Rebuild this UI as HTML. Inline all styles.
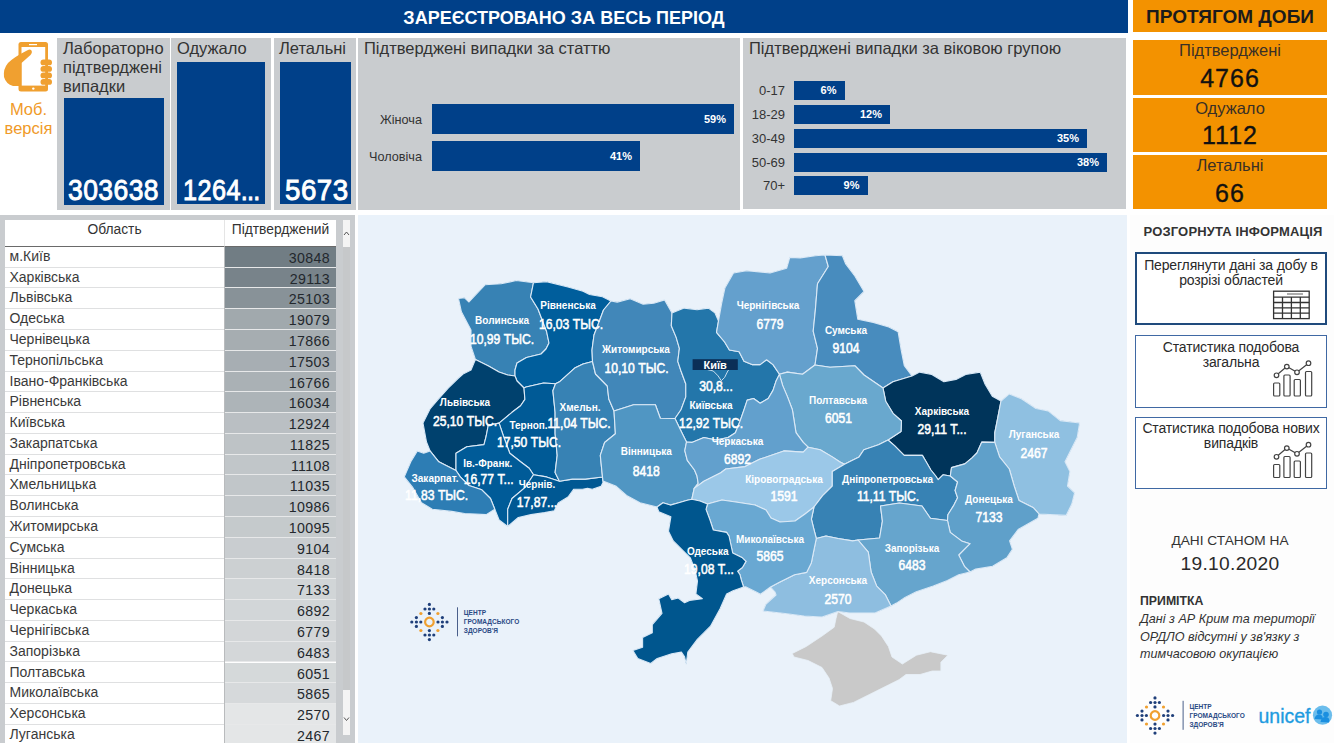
<!DOCTYPE html>
<html><head><meta charset="utf-8">
<style>
*{margin:0;padding:0;box-sizing:border-box}
html,body{width:1334px;height:743px;overflow:hidden;background:#fff;font-family:"Liberation Sans",sans-serif}
.a{position:absolute}
.hdr{left:0;top:0;width:1128px;height:33px;background:#004089;color:#fff;font-weight:bold;font-size:18px;line-height:36px;text-align:center;padding-left:0}
.ohdr{left:1133px;top:0;width:194px;height:32px;background:#f39200;color:#1b1b1b;font-weight:bold;font-size:19px;line-height:33px;text-align:center}
.gp{background:#c9cccf}
.lbl{color:#333;font-size:16.5px;line-height:19px}
.bx{background:#004089}
.big{color:#fff;font-weight:normal;-webkit-text-stroke:0.9px #fff;font-size:29px;letter-spacing:0.5px;transform:scaleX(0.95);transform-origin:left top}
.bar{background:#004089;color:#fff;font-weight:bold;font-size:11px;text-align:right;padding-right:8px}
.blab{color:#333;font-size:12px;text-align:right}
.ob{left:1133px;width:194px;background:#f39200;text-align:center}
.ob .t{font-size:16.5px;color:#3a3026;line-height:19px;padding-top:1px}
.ob .n{font-size:25px;color:#111;letter-spacing:1px;line-height:28px;padding-top:3.5px;-webkit-text-stroke:0.35px #111}
table{border-collapse:collapse}
.tr{left:5px;width:331px;height:20.78px;font-size:13.6px;color:#3a3a3a}
.tr .c1{position:absolute;left:0;top:0;width:219px;height:100%;background:#fff;border-bottom:1px solid #dfe0e1;padding-left:4.5px;line-height:18px;font-size:14px}
.tr .c2{position:absolute;left:219px;top:0;width:112px;height:100%;border-bottom:1px solid #e7e8e9;text-align:right;padding-right:6px;font-size:14.2px;line-height:23.5px;letter-spacing:0.35px;color:#23282d}
.rbox{left:1135px;width:192px;border:2px solid #1f4a7c;background:#fff;text-align:center;font-size:14px;letter-spacing:-0.15px;color:#2a2a2a;line-height:15px;padding-top:3.5px}
</style></head><body>
<!-- header -->
<div class="a hdr">ЗАРЕЄСТРОВАНО ЗА ВЕСЬ ПЕРІОД</div>
<div class="a ohdr">ПРОТЯГОМ ДОБИ</div>

<!-- mob icon -->
<svg class="a" style="left:0;top:36px" width="57" height="110" viewBox="0 36 57 110">
 <rect x="18.5" y="42" width="29.5" height="49.5" rx="2.5" fill="#f0a030"/>
 <rect x="21.5" y="47" width="23.7" height="38.6" fill="#fff"/>
 <rect x="29" y="44" width="8" height="1.2" fill="#fff"/>
 <circle cx="33.3" cy="88.6" r="1.2" fill="#fff"/>
 <path d="M31,50 Q33,52 30.5,55 L21.5,63 L21.5,86 L13,86 Q6,84 4,77 Q3,69 8,63 Q14,57 27,50.5 Q30,49 31,50 Z" fill="#f0a030"/>
 <rect x="40.5" y="59.5" width="11.5" height="5.8" rx="2.9" fill="#f0a030"/>
 <rect x="40.5" y="66" width="11.5" height="5.8" rx="2.9" fill="#f0a030"/>
 <rect x="40.5" y="72.5" width="11.5" height="5.8" rx="2.9" fill="#f0a030"/>
 <rect x="40.5" y="79" width="11.5" height="5.8" rx="2.9" fill="#f0a030"/>
</svg>
<div class="a" style="left:0;top:100px;width:57px;text-align:center;color:#f09a28;font-size:16.5px;line-height:18.5px">Моб.<br>версія</div>

<!-- KPI panels -->
<div class="a gp" style="left:57px;top:38px;width:113px;height:172px"></div>
<div class="a lbl" style="left:63px;top:39px">Лабораторно<br>підтверджені<br>випадки</div>
<div class="a bx" style="left:64px;top:98px;width:99.5px;height:106.5px"></div>
<div class="a big" style="left:68px;top:174px;transform:scaleX(0.912)">303638</div>

<div class="a gp" style="left:171px;top:38px;width:100px;height:172px"></div>
<div class="a lbl" style="left:177px;top:39px">Одужало</div>
<div class="a bx" style="left:176.5px;top:62px;width:88.5px;height:142px"></div>
<div class="a big" style="left:183px;top:174px;transform:scaleX(0.87)">1264<span style="letter-spacing:-1px">...</span></div>

<div class="a gp" style="left:274px;top:38px;width:82px;height:172px"></div>
<div class="a lbl" style="left:279px;top:39px">Летальні</div>
<div class="a bx" style="left:279.5px;top:62px;width:71px;height:142px"></div>
<div class="a big" style="left:285px;top:174px;transform:scaleX(0.955)">5673</div>

<!-- gender chart -->
<div class="a gp" style="left:358px;top:38px;width:382px;height:172px"></div>
<div class="a lbl" style="left:364px;top:39px">Підтверджені випадки за статтю</div>

<!-- age chart -->
<div class="a gp" style="left:743px;top:38px;width:383px;height:171px"></div>
<div class="a lbl" style="left:749px;top:39px">Підтверджені випадки за віковою групою</div>

<!-- orange daily -->
<div class="a ob" style="top:40px;height:54.5px"><div class="t">Підтверджені</div><div class="n">4766</div></div>
<div class="a ob" style="top:97.5px;height:54.5px"><div class="t">Одужало</div><div class="n">1112</div></div>
<div class="a ob" style="top:155px;height:54px"><div class="t">Летальні</div><div class="n">66</div></div>

<!-- table -->
<div class="a gp" style="left:0;top:215px;width:355px;height:528px"></div>
<div class="a" style="left:5px;top:220px;width:331px;height:523px;background:#fff"></div>
<div class="a" style="left:5px;top:220px;width:219px;height:27px;border-bottom:1.2px solid #6a6a6a;text-align:center;font-size:13.8px;color:#333;line-height:20px">Область</div>
<div class="a" style="left:224px;top:220px;width:112px;height:27px;border-bottom:1.2px solid #6a6a6a;border-left:1px solid #e5e5e5;text-align:center;font-size:13.8px;color:#333;line-height:20px">Підтверджений</div>
<div class="a tr" style="top:246.90px"><div class="c1">м.Київ</div><div class="c2" style="background:#717d84">30848</div></div>
<div class="a tr" style="top:267.68px"><div class="c1">Харківська</div><div class="c2" style="background:#78838a">29113</div></div>
<div class="a tr" style="top:288.46px"><div class="c1">Львівська</div><div class="c2" style="background:#889298">25103</div></div>
<div class="a tr" style="top:309.24px"><div class="c1">Одеська</div><div class="c2" style="background:#a1a9ad">19079</div></div>
<div class="a tr" style="top:330.02px"><div class="c1">Чернівецька</div><div class="c2" style="background:#a6adb1">17866</div></div>
<div class="a tr" style="top:350.80px"><div class="c1">Тернопільська</div><div class="c2" style="background:#a7aeb3">17503</div></div>
<div class="a tr" style="top:371.58px"><div class="c1">Івано-Франківська</div><div class="c2" style="background:#aab1b5">16766</div></div>
<div class="a tr" style="top:392.36px"><div class="c1">Рівненська</div><div class="c2" style="background:#adb4b8">16034</div></div>
<div class="a tr" style="top:413.14px"><div class="c1">Київська</div><div class="c2" style="background:#babfc3">12924</div></div>
<div class="a tr" style="top:433.92px"><div class="c1">Закарпатська</div><div class="c2" style="background:#bec3c6">11825</div></div>
<div class="a tr" style="top:454.70px"><div class="c1">Дніпропетровська</div><div class="c2" style="background:#c1c6c9">11108</div></div>
<div class="a tr" style="top:475.48px"><div class="c1">Хмельницька</div><div class="c2" style="background:#c1c6c9">11035</div></div>
<div class="a tr" style="top:496.26px"><div class="c1">Волинська</div><div class="c2" style="background:#c1c6c9">10986</div></div>
<div class="a tr" style="top:517.04px"><div class="c1">Житомирська</div><div class="c2" style="background:#c5cacc">10095</div></div>
<div class="a tr" style="top:537.82px"><div class="c1">Сумська</div><div class="c2" style="background:#c9cdd0">9104</div></div>
<div class="a tr" style="top:558.60px"><div class="c1">Вінницька</div><div class="c2" style="background:#ccd0d2">8418</div></div>
<div class="a tr" style="top:579.38px"><div class="c1">Донецька</div><div class="c2" style="background:#d1d5d7">7133</div></div>
<div class="a tr" style="top:600.16px"><div class="c1">Черкаська</div><div class="c2" style="background:#d2d6d8">6892</div></div>
<div class="a tr" style="top:620.94px"><div class="c1">Чернігівська</div><div class="c2" style="background:#d3d6d8">6779</div></div>
<div class="a tr" style="top:641.72px"><div class="c1">Запорізька</div><div class="c2" style="background:#d4d7d9">6483</div></div>
<div class="a tr" style="top:662.50px"><div class="c1">Полтавська</div><div class="c2" style="background:#d5d9da">6051</div></div>
<div class="a tr" style="top:683.28px"><div class="c1">Миколаївська</div><div class="c2" style="background:#d6d9db">5865</div></div>
<div class="a tr" style="top:704.06px"><div class="c1">Херсонська</div><div class="c2" style="background:#e4e6e7">2570</div></div>
<div class="a tr" style="top:724.84px"><div class="c1">Луганська</div><div class="c2" style="background:#e4e6e7">2467</div></div>
<div class="a" style="left:223.5px;top:247px;width:1px;height:496px;background:#b9bbbd"></div>
<div class="a" style="left:343px;top:220px;width:7px;height:27px;background:#f4f4f4"></div>
<div class="a" style="left:343px;top:247px;width:7px;height:443px;background:#c6c8ca"></div>
<div class="a" style="left:343px;top:690px;width:7px;height:45px;background:#f4f4f4"></div>
<svg class="a" style="left:343px;top:230px" width="7" height="6"><path d="M1,5 L3.5,2 L6,5" fill="none" stroke="#555" stroke-width="1"/></svg>
<svg class="a" style="left:343px;top:716px" width="7" height="6"><path d="M1,1.5 L3.5,4.5 L6,1.5" fill="none" stroke="#555" stroke-width="1"/></svg>

<!-- map panel -->
<div class="a" style="left:358px;top:215px;width:768.5px;height:528px;background:#eaf2fa"></div>
<div class="a blab" style="left:355px;top:113px;width:67px;font-size:12.7px">Жіноча</div>
<div class="a bar" style="left:432px;top:104px;width:302px;height:30px;line-height:30px">59%</div>
<div class="a blab" style="left:355px;top:150px;width:67px;font-size:12.7px">Чоловіча</div>
<div class="a bar" style="left:432px;top:141px;width:208px;height:30px;line-height:30px">41%</div>
<div class="a blab" style="left:740px;top:82.5px;width:45px;font-size:13px">0-17</div>
<div class="a bar" style="left:794px;top:80.5px;width:50.5px;height:19px;line-height:19px">6%</div>
<div class="a blab" style="left:740px;top:106.5px;width:45px;font-size:13px">18-29</div>
<div class="a bar" style="left:794px;top:104.5px;width:96px;height:19px;line-height:19px">12%</div>
<div class="a blab" style="left:740px;top:130.7px;width:45px;font-size:13px">30-49</div>
<div class="a bar" style="left:794px;top:128.7px;width:293px;height:19px;line-height:19px">35%</div>
<div class="a blab" style="left:740px;top:154.6px;width:45px;font-size:13px">50-69</div>
<div class="a bar" style="left:794px;top:152.6px;width:313px;height:19px;line-height:19px">38%</div>
<div class="a blab" style="left:740px;top:178.3px;width:45px;font-size:13px">70+</div>
<div class="a bar" style="left:794px;top:176.3px;width:73.5px;height:19px;line-height:19px">9%</div>
<svg class="a" style="left:0;top:0" width="1334" height="743" viewBox="0 0 1334 743">
<clipPath id="mc"><rect x="358" y="215" width="769" height="528"/></clipPath><g clip-path="url(#mc)">
<path d="M837.7,611.5 L850.0,618.5 L864.0,622.0 L874.5,629.0 L881.5,636.0 L888.4,646.5 L892.0,657.0 L902.4,664.0 L916.4,655.2 L930.4,651.7 L947.9,655.2 L940.9,662.2 L940.9,671.0 L932.2,671.0 L920.0,674.5 L906.0,674.5 L899.0,679.7 L888.4,685.0 L871.0,693.7 L853.5,702.4 L839.5,706.0 L830.7,700.7 L832.5,688.4 L829.0,678.0 L822.0,667.5 L808.0,660.5 L794.0,657.0 L792.2,653.5 L806.2,646.5 L822.0,636.0 L834.2,627.2 L836.0,618.5Z" fill="#c9c9c9" stroke="#e9f1f9" stroke-width="0.8"/>
<path d="M458.5,298.5 L464.6,297.8 L469.0,302.0 L485.0,284.8 L501.2,283.8 L516.3,280.5 L533.5,282.7 L546.5,281.6 L568.0,287.0 L583.0,291.3 L589.5,294.5 L602.5,296.7 L611.0,301.0 L617.2,302.1 L630.2,298.8 L643.1,304.2 L653.8,303.2 L664.6,299.9 L672.0,313.0 L676.1,311.3 L684.2,308.1 L697.1,309.7 L708.4,308.1 L714.9,312.9 L718.5,321.0 L721.7,303.2 L724.9,288.1 L733.5,273.0 L746.5,270.8 L759.4,271.9 L770.1,273.0 L786.7,268.2 L789.8,257.4 L800.3,257.9 L815.4,255.8 L825.0,255.0 L842.4,255.8 L845.5,263.6 L854.8,276.0 L864.0,291.4 L854.8,300.7 L857.8,319.3 L873.3,322.4 L888.8,327.0 L898.1,331.7 L901.2,350.2 L904.3,365.7 L912.0,376.0 L919.7,372.1 L931.8,374.5 L943.9,381.8 L956.0,379.4 L965.7,374.5 L980.2,372.1 L985.1,384.2 L992.3,396.3 L1001.0,401.0 L1009.3,393.9 L1021.4,398.8 L1036.0,408.5 L1048.1,410.9 L1060.2,420.6 L1079.6,423.0 L1077.2,437.5 L1069.9,452.1 L1065.0,461.8 L1069.9,471.5 L1067.5,486.0 L1074.6,492.8 L1071.8,504.1 L1066.1,515.4 L1039.0,514.0 L1037.9,518.3 L1018.1,529.6 L1009.6,540.9 L1012.4,549.4 L1006.8,557.8 L992.6,566.3 L975.7,569.1 L970.0,572.0 L958.7,574.8 L947.4,580.4 L933.3,586.1 L916.3,591.8 L905.0,597.4 L896.5,603.1 L891.0,606.0 L875.0,613.0 L850.0,613.0 L838.0,611.5 L822.0,617.0 L804.0,616.0 L785.0,613.5 L763.0,611.0 L766.0,604.0 L776.0,595.0 L775.0,592.0 L770.5,587.0 L760.5,594.2 L755.7,591.8 L746.0,586.9 L743.6,587.0 L733.1,590.7 L726.6,593.9 L720.2,608.5 L710.5,626.2 L697.5,639.2 L687.8,652.1 L686.2,664.2 L684.6,656.9 L681.4,652.1 L671.7,653.7 L657.2,658.5 L650.7,663.4 L637.8,658.5 L632.9,650.5 L642.6,647.2 L642.6,637.5 L652.3,632.7 L652.3,624.6 L662.0,613.3 L658.8,598.8 L668.5,593.9 L671.7,599.6 L678.2,598.0 L684.6,602.8 L689.5,600.4 L702.4,598.8 L695.9,593.9 L697.5,581.0 L695.1,570.0 L690.3,557.8 L683.0,550.6 L673.3,540.9 L668.5,531.2 L670.9,516.7 L658.8,511.8 L657.0,507.0 L640.0,502.7 L626.6,495.4 L615.7,486.0 L603.0,481.0 L602.5,477.0 L603.0,482.4 L601.1,486.3 L592.3,489.2 L587.5,488.3 L582.6,489.2 L573.8,489.2 L568.0,497.0 L558.2,502.9 L554.3,510.7 L544.6,512.6 L531.0,514.6 L518.3,517.5 L507.7,526.5 L499.1,520.0 L494.8,509.2 L486.2,514.6 L464.6,513.5 L451.7,511.4 L432.3,509.2 L421.5,502.8 L412.9,487.7 L404.3,476.9 L410.8,461.8 L417.2,451.1 L423.7,453.2 L430.2,451.1 L426.5,442.0 L423.0,423.0 L430.0,409.0 L437.3,400.3 L448.2,388.2 L458.0,378.5 L463.0,374.0 L471.0,370.0 L475.4,359.5 L471.0,346.2 L471.0,330.0 L461.4,311.8 L458.5,298.5Z" fill="#3782b4"/>
<path d="M458.5,298.5 L464.6,297.8 L469.0,302.0 L485.0,284.8 L501.2,283.8 L516.3,280.5 L533.5,282.7 L530.6,297.0 L538.0,309.0 L546.6,331.5 L549.0,343.0 L546.0,349.0 L541.0,354.0 L526.5,357.5 L517.0,363.0 L515.0,370.0 L515.0,376.0 L507.7,375.0 L499.0,372.0 L488.5,366.0 L475.4,359.5 L471.0,346.2 L471.0,330.0 L461.4,311.8 L458.5,298.5Z" fill="#3782b4" stroke="#dbe9f6" stroke-width="1.1" stroke-linejoin="round"/>
<path d="M533.5,282.7 L546.5,281.6 L568.0,287.0 L583.0,291.3 L589.5,294.5 L602.5,296.7 L611.0,301.0 L603.5,310.0 L599.0,322.0 L594.0,335.0 L592.0,350.0 L592.5,361.5 L583.0,364.0 L574.7,368.1 L560.0,381.4 L555.5,383.7 L543.6,383.0 L526.0,387.0 L524.0,388.0 L517.0,381.0 L515.0,376.0 L515.0,370.0 L517.0,363.0 L526.5,357.5 L541.0,354.0 L546.0,349.0 L549.0,343.0 L546.6,331.5 L538.0,309.0 L530.6,297.0 L533.5,282.7Z" fill="#005e9c" stroke="#dbe9f6" stroke-width="1.1" stroke-linejoin="round"/>
<path d="M475.4,359.5 L488.5,366.0 L499.0,372.0 L507.7,375.0 L515.0,376.0 L517.0,381.0 L524.0,388.0 L524.9,399.4 L520.6,405.8 L512.0,412.3 L499.1,423.1 L488.3,425.2 L486.2,436.0 L484.0,444.6 L466.8,446.8 L456.0,453.2 L456.0,470.5 L438.8,461.8 L430.2,451.1 L426.5,442.0 L423.0,423.0 L430.0,409.0 L437.3,400.3 L448.2,388.2 L458.0,378.5 L463.0,374.0 L471.0,370.0 L475.4,359.5Z" fill="#00416e" stroke="#dbe9f6" stroke-width="1.1" stroke-linejoin="round"/>
<path d="M524.0,388.0 L526.0,387.0 L543.6,383.0 L555.5,383.7 L552.9,390.8 L555.1,412.3 L555.1,433.8 L557.2,455.4 L555.1,472.6 L559.4,481.2 L546.5,476.9 L533.5,474.8 L529.2,468.3 L520.6,461.8 L509.8,453.2 L503.4,436.0 L499.1,423.1 L512.0,412.3 L520.6,405.8 L524.9,399.4 L524.0,388.0Z" fill="#005a96" stroke="#dbe9f6" stroke-width="1.1" stroke-linejoin="round"/>
<path d="M499.1,423.1 L503.4,436.0 L509.8,453.2 L520.6,461.8 L529.2,468.3 L533.5,474.8 L524.9,487.7 L512.0,498.5 L507.7,509.2 L507.7,526.5 L499.1,520.0 L494.8,509.2 L490.5,498.5 L481.8,489.8 L468.9,485.5 L460.3,476.9 L456.0,470.5 L456.0,453.2 L466.8,446.8 L484.0,444.6 L486.2,436.0 L488.3,425.2 L499.1,423.1Z" fill="#005b98" stroke="#dbe9f6" stroke-width="1.1" stroke-linejoin="round"/>
<path d="M456.0,470.5 L460.3,476.9 L468.9,485.5 L481.8,489.8 L490.5,498.5 L494.8,509.2 L486.2,514.6 L464.6,513.5 L451.7,511.4 L432.3,509.2 L421.5,502.8 L412.9,487.7 L404.3,476.9 L410.8,461.8 L417.2,451.1 L423.7,453.2 L430.2,451.1 L438.8,461.8 L456.0,470.5Z" fill="#2d7db4" stroke="#dbe9f6" stroke-width="1.1" stroke-linejoin="round"/>
<path d="M533.5,474.8 L546.5,476.9 L559.4,481.2 L572.3,479.1 L585.2,479.1 L602.5,477.0 L603.0,482.4 L601.1,486.3 L592.3,489.2 L587.5,488.3 L582.6,489.2 L573.8,489.2 L568.0,497.0 L558.2,502.9 L554.3,510.7 L544.6,512.6 L531.0,514.6 L518.3,517.5 L507.7,526.5 L507.7,509.2 L512.0,498.5 L524.9,487.7 L533.5,474.8Z" fill="#005893" stroke="#dbe9f6" stroke-width="1.1" stroke-linejoin="round"/>
<path d="M555.5,383.7 L560.0,381.4 L574.7,368.1 L583.0,364.0 L592.5,361.5 L595.5,374.0 L607.3,386.0 L608.8,399.0 L614.0,411.0 L615.4,433.8 L604.6,442.5 L600.3,455.4 L602.5,477.0 L585.2,479.1 L572.3,479.1 L559.4,481.2 L555.1,472.6 L557.2,455.4 L555.1,433.8 L555.1,412.3 L552.9,390.8 L555.5,383.7Z" fill="#3782b4" stroke="#dbe9f6" stroke-width="1.1" stroke-linejoin="round"/>
<path d="M611.0,301.0 L617.2,302.1 L630.2,298.8 L643.1,304.2 L653.8,303.2 L664.6,299.9 L672.0,313.0 L671.3,325.8 L676.1,337.1 L679.4,348.4 L677.8,361.3 L681.0,371.0 L685.8,384.0 L685.8,396.9 L681.0,409.8 L675.0,418.5 L660.3,418.2 L655.4,404.8 L633.6,404.8 L614.0,411.0 L608.8,399.0 L607.3,386.0 L595.5,374.0 L592.5,361.5 L592.0,350.0 L594.0,335.0 L599.0,322.0 L603.5,310.0 L611.0,301.0Z" fill="#4187b9" stroke="#dbe9f6" stroke-width="1.1" stroke-linejoin="round"/>
<path d="M672.0,313.0 L676.1,311.3 L684.2,308.1 L697.1,309.7 L708.4,308.1 L714.9,312.9 L718.5,321.0 L716.5,332.3 L724.6,342.0 L729.4,350.0 L739.1,351.7 L744.0,361.3 L752.0,364.6 L760.1,364.6 L766.6,359.7 L773.0,364.6 L779.5,374.3 L776.2,380.7 L773.0,390.4 L768.2,398.5 L760.1,403.3 L753.6,398.5 L747.2,400.1 L744.0,409.8 L740.2,420.6 L735.4,432.7 L728.1,437.5 L716.0,440.0 L703.9,437.5 L691.8,442.4 L686.5,442.0 L682.0,433.0 L675.0,418.5 L681.0,409.8 L685.8,396.9 L685.8,384.0 L681.0,371.0 L677.8,361.3 L679.4,348.4 L676.1,337.1 L671.3,325.8 L672.0,313.0Z" fill="#2376aa" stroke="#dbe9f6" stroke-width="1.1" stroke-linejoin="round"/>
<path d="M718.5,321.0 L721.7,303.2 L724.9,288.1 L733.5,273.0 L746.5,270.8 L759.4,271.9 L770.1,273.0 L786.7,268.2 L789.8,257.4 L800.3,257.9 L815.4,255.8 L825.0,255.0 L828.3,266.5 L817.5,283.8 L815.4,309.6 L813.2,331.2 L817.5,348.4 L815.0,365.0 L802.5,374.2 L787.4,372.1 L779.5,374.3 L773.0,364.6 L766.6,359.7 L760.1,364.6 L752.0,364.6 L744.0,361.3 L739.1,351.7 L729.4,350.0 L724.6,342.0 L716.5,332.3 L718.5,321.0Z" fill="#64a0cd" stroke="#dbe9f6" stroke-width="1.1" stroke-linejoin="round"/>
<path d="M825.0,255.0 L842.4,255.8 L845.5,263.6 L854.8,276.0 L864.0,291.4 L854.8,300.7 L857.8,319.3 L873.3,322.4 L888.8,327.0 L898.1,331.7 L901.2,350.2 L904.3,365.7 L912.0,376.0 L893.0,381.8 L883.0,388.0 L864.0,375.0 L854.8,365.7 L830.0,367.3 L815.0,365.0 L817.5,348.4 L813.2,331.2 L815.4,309.6 L817.5,283.8 L828.3,266.5 L825.0,255.0Z" fill="#488cbe" stroke="#dbe9f6" stroke-width="1.1" stroke-linejoin="round"/>
<path d="M912.0,376.0 L919.7,372.1 L931.8,374.5 L943.9,381.8 L956.0,379.4 L965.7,374.5 L980.2,372.1 L985.1,384.2 L992.3,396.3 L1001.0,401.0 L997.2,420.6 L994.8,432.7 L994.8,442.4 L981.8,442.1 L976.9,453.0 L972.0,457.9 L964.8,463.9 L951.5,467.6 L950.3,476.0 L943.0,474.8 L938.2,479.7 L935.7,476.0 L930.9,470.0 L926.0,461.5 L922.4,455.4 L904.2,455.4 L894.5,445.7 L888.0,440.0 L901.0,431.5 L901.5,421.0 L893.0,413.3 L885.7,401.2 L883.0,388.0 L893.0,381.8 L912.0,376.0Z" fill="#00345a" stroke="#dbe9f6" stroke-width="1.1" stroke-linejoin="round"/>
<path d="M1001.0,401.0 L1009.3,393.9 L1021.4,398.8 L1036.0,408.5 L1048.1,410.9 L1060.2,420.6 L1079.6,423.0 L1077.2,437.5 L1069.9,452.1 L1065.0,461.8 L1069.9,471.5 L1067.5,486.0 L1074.6,492.8 L1071.8,504.1 L1066.1,515.4 L1039.0,514.0 L1033.5,507.8 L1019.0,500.5 L1014.2,486.0 L1009.3,469.0 L999.6,456.9 L994.8,442.4 L994.8,432.7 L997.2,420.6 L1001.0,401.0Z" fill="#8fc0e1" stroke="#dbe9f6" stroke-width="1.1" stroke-linejoin="round"/>
<path d="M779.5,374.3 L787.4,372.1 L802.5,374.2 L815.0,365.0 L830.0,367.3 L854.8,365.7 L864.0,375.0 L883.0,388.0 L885.7,401.2 L893.0,413.3 L901.5,421.0 L901.0,431.5 L888.0,440.0 L878.5,444.8 L863.9,449.7 L859.1,456.9 L849.4,461.8 L844.5,464.2 L839.6,461.8 L832.3,456.9 L820.2,449.7 L808.1,447.2 L803.2,442.4 L796.0,432.7 L792.4,409.8 L787.5,396.9 L782.7,385.6 L779.5,374.3Z" fill="#69a8ce" stroke="#dbe9f6" stroke-width="1.1" stroke-linejoin="round"/>
<path d="M614.0,411.0 L633.6,404.8 L655.4,404.8 L660.3,418.2 L675.0,418.5 L682.0,433.0 L686.5,442.0 L684.8,450.6 L687.3,460.3 L694.5,470.0 L697.0,476.0 L698.2,483.3 L694.2,488.4 L691.8,499.3 L687.3,500.3 L678.8,502.7 L670.3,505.1 L663.0,502.7 L657.0,507.0 L640.0,502.7 L626.6,495.4 L615.7,486.0 L603.0,481.0 L602.5,477.0 L600.3,455.4 L604.6,442.5 L615.4,433.8 L614.0,411.0Z" fill="#5096c3" stroke="#dbe9f6" stroke-width="1.1" stroke-linejoin="round"/>
<path d="M686.5,442.0 L691.8,442.4 L703.9,437.5 L716.0,440.0 L728.1,437.5 L735.4,432.7 L740.2,420.6 L744.0,409.8 L747.2,400.1 L753.6,398.5 L760.1,403.3 L768.2,398.5 L773.0,390.4 L776.2,380.7 L779.5,374.3 L782.7,385.6 L787.5,396.9 L792.4,409.8 L796.0,432.7 L803.2,442.4 L808.1,447.2 L803.2,452.1 L783.8,450.9 L759.6,459.3 L745.1,466.6 L725.7,469.0 L720.8,472.7 L703.9,481.2 L694.2,488.4 L698.2,483.3 L697.0,476.0 L694.5,470.0 L687.3,460.3 L684.8,450.6 L686.5,442.0Z" fill="#62a0cd" stroke="#dbe9f6" stroke-width="1.1" stroke-linejoin="round"/>
<path d="M808.1,447.2 L820.2,449.7 L832.3,456.9 L839.6,461.8 L844.5,464.2 L832.3,471.5 L832.3,486.0 L822.6,495.7 L814.0,507.0 L805.0,514.0 L795.0,521.0 L780.0,522.0 L771.0,518.0 L766.0,510.0 L755.0,505.0 L739.0,502.5 L722.0,500.0 L707.5,504.0 L700.0,501.0 L691.8,499.3 L694.2,488.4 L703.9,481.2 L720.8,472.7 L725.7,469.0 L745.1,466.6 L759.6,459.3 L783.8,450.9 L803.2,452.1 L808.1,447.2Z" fill="#9bc8e8" stroke="#dbe9f6" stroke-width="1.1" stroke-linejoin="round"/>
<path d="M888.0,440.0 L894.5,445.7 L904.2,455.4 L922.4,455.4 L926.0,461.5 L930.9,470.0 L935.7,476.0 L938.2,479.7 L943.0,474.8 L950.3,476.0 L957.6,482.0 L955.1,490.5 L957.6,497.8 L953.9,505.1 L947.9,514.8 L947.5,520.5 L930.4,518.3 L922.0,506.0 L899.4,503.0 L880.5,506.0 L882.4,521.1 L879.6,538.0 L858.0,540.0 L852.6,540.9 L838.1,538.5 L826.0,536.0 L816.3,538.5 L813.8,528.8 L811.4,519.1 L814.0,507.0 L822.6,495.7 L832.3,486.0 L832.3,471.5 L844.5,464.2 L849.4,461.8 L859.1,456.9 L863.9,449.7 L878.5,444.8 L888.0,440.0Z" fill="#3782b4" stroke="#dbe9f6" stroke-width="1.1" stroke-linejoin="round"/>
<path d="M994.8,442.4 L999.6,456.9 L1009.3,469.0 L1014.2,486.0 L1019.0,500.5 L1033.5,507.8 L1039.0,514.0 L1037.9,518.3 L1018.1,529.6 L1009.6,540.9 L1012.4,549.4 L1006.8,557.8 L992.6,566.3 L975.7,569.1 L970.0,572.0 L964.4,566.3 L958.7,555.0 L970.0,543.7 L961.5,540.9 L950.2,532.4 L947.5,520.5 L947.9,514.8 L953.9,505.1 L957.6,497.8 L955.1,490.5 L957.6,482.0 L950.3,476.0 L951.5,467.6 L964.8,463.9 L972.0,457.9 L976.9,453.0 L981.8,442.1 L994.8,442.4Z" fill="#5fa0ca" stroke="#dbe9f6" stroke-width="1.1" stroke-linejoin="round"/>
<path d="M858.0,540.0 L879.6,538.0 L882.4,521.1 L880.5,506.0 L899.4,503.0 L922.0,506.0 L930.4,518.3 L947.5,520.5 L950.2,532.4 L961.5,540.9 L970.0,543.7 L958.7,555.0 L964.4,566.3 L970.0,572.0 L958.7,574.8 L947.4,580.4 L933.3,586.1 L916.3,591.8 L905.0,597.4 L896.5,603.1 L891.0,606.0 L885.2,594.6 L876.7,586.1 L871.1,572.0 L868.3,552.2 L858.0,540.0Z" fill="#66a5cd" stroke="#dbe9f6" stroke-width="1.1" stroke-linejoin="round"/>
<path d="M816.3,538.5 L826.0,536.0 L838.1,538.5 L852.6,540.9 L858.0,540.0 L868.3,552.2 L871.1,572.0 L876.7,586.1 L885.2,594.6 L891.0,606.0 L875.0,613.0 L850.0,613.0 L838.0,611.5 L822.0,617.0 L804.0,616.0 L785.0,613.5 L763.0,611.0 L766.0,604.0 L776.0,595.0 L775.0,592.0 L770.5,587.0 L779.9,582.1 L794.5,574.8 L806.6,572.4 L811.4,562.7 L813.8,550.6 L816.3,538.5Z" fill="#8ebee0" stroke="#dbe9f6" stroke-width="1.1" stroke-linejoin="round"/>
<path d="M707.5,504.0 L722.0,500.0 L739.0,502.5 L755.0,505.0 L766.0,510.0 L771.0,518.0 L780.0,522.0 L795.0,521.0 L805.0,514.0 L814.0,507.0 L811.4,519.1 L813.8,528.8 L816.3,538.5 L813.8,550.6 L811.4,562.7 L806.6,572.4 L794.5,574.8 L779.9,582.1 L770.5,587.0 L760.5,594.2 L755.7,591.8 L746.0,586.9 L743.6,587.0 L741.2,579.7 L740.0,574.7 L737.6,571.1 L742.4,567.5 L746.0,561.4 L742.4,557.8 L732.7,553.0 L729.0,536.0 L726.6,532.4 L713.3,530.0 L710.0,520.0 L706.0,509.4 L707.5,504.0Z" fill="#69a8d2" stroke="#dbe9f6" stroke-width="1.1" stroke-linejoin="round"/>
<path d="M691.8,499.3 L700.0,501.0 L707.5,504.0 L706.0,509.4 L710.0,520.0 L713.3,530.0 L726.6,532.4 L729.0,536.0 L732.7,553.0 L742.4,557.8 L746.0,561.4 L742.4,567.5 L737.6,571.1 L740.0,574.7 L741.2,579.7 L743.6,587.0 L733.1,590.7 L726.6,593.9 L720.2,608.5 L710.5,626.2 L697.5,639.2 L687.8,652.1 L686.2,664.2 L684.6,656.9 L681.4,652.1 L671.7,653.7 L657.2,658.5 L650.7,663.4 L637.8,658.5 L632.9,650.5 L642.6,647.2 L642.6,637.5 L652.3,632.7 L652.3,624.6 L662.0,613.3 L658.8,598.8 L668.5,593.9 L671.7,599.6 L678.2,598.0 L684.6,602.8 L689.5,600.4 L702.4,598.8 L695.9,593.9 L697.5,581.0 L695.1,570.0 L690.3,557.8 L683.0,550.6 L673.3,540.9 L668.5,531.2 L670.9,516.7 L658.8,511.8 L657.0,507.0 L663.0,502.7 L670.3,505.1 L678.8,502.7 L687.3,500.3 L691.8,499.3Z" fill="#00568e" stroke="#dbe9f6" stroke-width="1.1" stroke-linejoin="round"/>
<path d="M702,365 L733,365 L727.8,371 L724.6,377.5 L721.3,380.7 L718.1,375.9 L713.3,371 L706.8,369.4 Z" fill="#2376aa" stroke="#dbe9f6" stroke-width="0.9"/>
<rect x="692.6" y="359.2" width="45.2" height="10.8" fill="#0b2f57"/>
<text x="715.2" y="368.6" text-anchor="middle" font-size="11" font-weight="bold" fill="#fff">Київ</text>
<text transform="translate(716,391) scale(0.88,1)" text-anchor="middle" font-size="13.8" stroke="#fff" stroke-width="0.55" fill="#fff">30,8...</text>
<text x="502" y="323.6" text-anchor="middle" font-size="10" font-weight="bold" fill="#fff">Волинська</text>
<text transform="translate(502,343.9) scale(0.88,1)" text-anchor="middle" font-size="13.8" stroke="#fff" stroke-width="0.55" fill="#fff">10,99 ТЫС.</text>
<text x="568" y="308.6" text-anchor="middle" font-size="10" font-weight="bold" fill="#fff">Рівненська</text>
<text transform="translate(571,328.9) scale(0.88,1)" text-anchor="middle" font-size="13.8" stroke="#fff" stroke-width="0.55" fill="#fff">16,03 ТЫС.</text>
<text x="636" y="352.6" text-anchor="middle" font-size="10" font-weight="bold" fill="#fff">Житомирська</text>
<text transform="translate(636.5,372.9) scale(0.88,1)" text-anchor="middle" font-size="13.8" stroke="#fff" stroke-width="0.55" fill="#fff">10,10 ТЫС.</text>
<text x="711" y="408.6" text-anchor="middle" font-size="10" font-weight="bold" fill="#fff">Київська</text>
<text transform="translate(711,427.9) scale(0.88,1)" text-anchor="middle" font-size="13.8" stroke="#fff" stroke-width="0.55" fill="#fff">12,92 ТЫС.</text>
<text x="768" y="308.6" text-anchor="middle" font-size="10" font-weight="bold" fill="#fff">Чернігівська</text>
<text transform="translate(770,328.9) scale(0.88,1)" text-anchor="middle" font-size="13.8" stroke="#fff" stroke-width="0.55" fill="#fff">6779</text>
<text x="846" y="333.6" text-anchor="middle" font-size="10" font-weight="bold" fill="#fff">Сумська</text>
<text transform="translate(846,352.9) scale(0.88,1)" text-anchor="middle" font-size="13.8" stroke="#fff" stroke-width="0.55" fill="#fff">9104</text>
<text x="465" y="405.6" text-anchor="middle" font-size="10" font-weight="bold" fill="#fff">Львівська</text>
<text transform="translate(465,425.9) scale(0.88,1)" text-anchor="middle" font-size="13.8" stroke="#fff" stroke-width="0.55" fill="#fff">25,10 ТЫС.</text>
<text x="528.5" y="428.6" text-anchor="middle" font-size="10" font-weight="bold" fill="#fff">Терноп.</text>
<text transform="translate(529,446.9) scale(0.88,1)" text-anchor="middle" font-size="13.8" stroke="#fff" stroke-width="0.55" fill="#fff">17,50 ТЫС.</text>
<text x="580" y="410.6" text-anchor="middle" font-size="10" font-weight="bold" fill="#fff">Хмельн.</text>
<text transform="translate(579,427.9) scale(0.88,1)" text-anchor="middle" font-size="13.8" stroke="#fff" stroke-width="0.55" fill="#fff">11,04 ТЫС.</text>
<text x="838" y="403.6" text-anchor="middle" font-size="10" font-weight="bold" fill="#fff">Полтавська</text>
<text transform="translate(838.5,422.9) scale(0.88,1)" text-anchor="middle" font-size="13.8" stroke="#fff" stroke-width="0.55" fill="#fff">6051</text>
<text x="942" y="414.6" text-anchor="middle" font-size="10" font-weight="bold" fill="#fff">Харківська</text>
<text transform="translate(942,433.9) scale(0.88,1)" text-anchor="middle" font-size="13.8" stroke="#fff" stroke-width="0.55" fill="#fff">29,11 Т...</text>
<text x="1034" y="437.6" text-anchor="middle" font-size="10" font-weight="bold" fill="#fff">Луганська</text>
<text transform="translate(1034,457.9) scale(0.88,1)" text-anchor="middle" font-size="13.8" stroke="#fff" stroke-width="0.55" fill="#fff">2467</text>
<text x="737.5" y="444.6" text-anchor="middle" font-size="10" font-weight="bold" fill="#fff">Черкаська</text>
<text transform="translate(737.5,463.9) scale(0.88,1)" text-anchor="middle" font-size="13.8" stroke="#fff" stroke-width="0.55" fill="#fff">6892</text>
<text x="646.3" y="454.6" text-anchor="middle" font-size="10" font-weight="bold" fill="#fff">Вінницька</text>
<text transform="translate(646.3,475.9) scale(0.88,1)" text-anchor="middle" font-size="13.8" stroke="#fff" stroke-width="0.55" fill="#fff">8418</text>
<text x="784" y="482.6" text-anchor="middle" font-size="10" font-weight="bold" fill="#fff">Кіровоградська</text>
<text transform="translate(784,500.9) scale(0.88,1)" text-anchor="middle" font-size="13.8" stroke="#fff" stroke-width="0.55" fill="#fff">1591</text>
<text x="887.5" y="482.6" text-anchor="middle" font-size="10" font-weight="bold" fill="#fff">Дніпропетровська</text>
<text transform="translate(888,500.9) scale(0.88,1)" text-anchor="middle" font-size="13.8" stroke="#fff" stroke-width="0.55" fill="#fff">11,11 ТЫС.</text>
<text x="435" y="481.6" text-anchor="middle" font-size="10" font-weight="bold" fill="#fff">Закарпат.</text>
<text transform="translate(436.6,499.9) scale(0.88,1)" text-anchor="middle" font-size="13.8" stroke="#fff" stroke-width="0.55" fill="#fff">11,83 ТЫС.</text>
<text x="487.7" y="466.6" text-anchor="middle" font-size="10" font-weight="bold" fill="#fff">Ів.-Франк.</text>
<text transform="translate(488.7,483.9) scale(0.88,1)" text-anchor="middle" font-size="13.8" stroke="#fff" stroke-width="0.55" fill="#fff">16,77 Т...</text>
<text x="537" y="487.6" text-anchor="middle" font-size="10" font-weight="bold" fill="#fff">Чернів.</text>
<text transform="translate(537,506.9) scale(0.88,1)" text-anchor="middle" font-size="13.8" stroke="#fff" stroke-width="0.55" fill="#fff">17,87...</text>
<text x="989" y="502.6" text-anchor="middle" font-size="10" font-weight="bold" fill="#fff">Донецька</text>
<text transform="translate(989,521.9) scale(0.88,1)" text-anchor="middle" font-size="13.8" stroke="#fff" stroke-width="0.55" fill="#fff">7133</text>
<text x="707.7" y="554.6" text-anchor="middle" font-size="10" font-weight="bold" fill="#fff">Одеська</text>
<text transform="translate(709,573.9) scale(0.88,1)" text-anchor="middle" font-size="13.8" stroke="#fff" stroke-width="0.55" fill="#fff">19,08 Т...</text>
<text x="770" y="542.6" text-anchor="middle" font-size="10" font-weight="bold" fill="#fff">Миколаївська</text>
<text transform="translate(770,560.9) scale(0.88,1)" text-anchor="middle" font-size="13.8" stroke="#fff" stroke-width="0.55" fill="#fff">5865</text>
<text x="912" y="551.6" text-anchor="middle" font-size="10" font-weight="bold" fill="#fff">Запорізька</text>
<text transform="translate(912,569.9) scale(0.88,1)" text-anchor="middle" font-size="13.8" stroke="#fff" stroke-width="0.55" fill="#fff">6483</text>
<text x="838" y="583.6" text-anchor="middle" font-size="10" font-weight="bold" fill="#fff">Херсонська</text>
<text transform="translate(838,603.9) scale(0.88,1)" text-anchor="middle" font-size="13.8" stroke="#fff" stroke-width="0.55" fill="#fff">2570</text>
</g></svg>

<!-- right panel -->
<div class="a" style="left:1130px;top:215px;width:204px;height:528px;background:#fdfdfd"></div>
<div class="a" style="left:1136px;top:223.5px;width:194px;text-align:center;font-weight:bold;font-size:13px;letter-spacing:0.15px;color:#333">РОЗГОРНУТА ІНФОРМАЦІЯ</div>
<div class="a rbox" style="top:252px;height:73px">Переглянути дані за добу в<br>розрізі областей</div>
<div class="a rbox" style="top:335px;height:72.5px;border:1.6px solid #3f68a3">Статистика подобова<br>загальна</div>
<div class="a rbox" style="top:416.5px;height:72px;border:1.6px solid #3f68a3">Статистика подобова нових<br>випадків</div>
<svg class="a" style="left:0;top:0" width="1334" height="743" viewBox="0 0 1334 743">
 <g fill="none" stroke="#333" stroke-width="1.3">
  <rect x="1273.6" y="291.2" width="35.6" height="27.4"/>
  <path d="M1273.6,297.2 H1309.2 M1273.6,302.5 H1309.2 M1273.6,307.8 H1309.2 M1273.6,313.1 H1309.2 M1282.5,297.2 V318.6 M1291.4,297.2 V318.6 M1300.3,297.2 V318.6"/>
  <path d="M1287,294 H1303" stroke="#777" stroke-width="1.2"/>
 </g>
 <g id="chart1" fill="none" stroke="#444" stroke-width="1.2">
  <rect x="1273.6" y="383" width="6.2" height="13" rx="1"/>
  <rect x="1283.9" y="375" width="6.2" height="21" rx="1"/>
  <rect x="1294.2" y="379.5" width="6.2" height="16.5" rx="1"/>
  <rect x="1305.5" y="371.5" width="6.2" height="24.5" rx="1"/>
  <path d="M1276.5,375.3 L1286.8,366.6 L1297,372.3 L1308.5,363.2"/>
  <circle cx="1276.5" cy="375.3" r="2.3" fill="#fff"/><circle cx="1286.8" cy="366.6" r="2.3" fill="#fff"/>
  <circle cx="1297" cy="372.3" r="2.3" fill="#fff"/><circle cx="1308.5" cy="363.2" r="2.3" fill="#fff"/>
 </g>
 <use href="#chart1" transform="translate(0,81.5)"/>
 <!-- CGZ logo -->
 <defs><g id="cgz">
  <g fill="#1f3f7a">
   <circle cx="0" cy="-17.6" r="1.6"/><circle cx="-4.4" cy="-13" r="1.6"/><circle cx="0" cy="-13" r="1.6"/><circle cx="4.4" cy="-13" r="1.6"/><circle cx="0" cy="-8.6" r="1.6"/>
   <circle cx="0" cy="17.6" r="1.6"/><circle cx="-4.4" cy="13" r="1.6"/><circle cx="0" cy="13" r="1.6"/><circle cx="4.4" cy="13" r="1.6"/><circle cx="0" cy="8.6" r="1.6"/>
   <circle cx="-17.6" cy="0" r="1.6"/><circle cx="-13" cy="-4.4" r="1.6"/><circle cx="-13" cy="0" r="1.6"/><circle cx="-13" cy="4.4" r="1.6"/><circle cx="-8.6" cy="0" r="1.6"/>
   <circle cx="17.6" cy="0" r="1.6"/><circle cx="13" cy="-4.4" r="1.6"/><circle cx="13" cy="0" r="1.6"/><circle cx="13" cy="4.4" r="1.6"/><circle cx="8.6" cy="0" r="1.6"/>
  </g>
  <g fill="#f0a030"><circle cx="-8.5" cy="-8.5" r="1.6"/><circle cx="8.5" cy="-8.5" r="1.6"/><circle cx="-8.5" cy="8.5" r="1.6"/><circle cx="8.5" cy="8.5" r="1.6"/></g>
  <circle cx="0" cy="0" r="4.3" fill="none" stroke="#f0a030" stroke-width="2.2"/>
  <rect x="27.6" y="-14.7" width="1" height="29" fill="#4a5f8a"/>
  <g fill="#2a4a85" font-weight="bold" font-size="8" transform="scale(0.82,1)">
   <text x="42" y="-6.8">ЦЕНТР</text><text x="42" y="2.1">ГРОМАДСЬКОГО</text><text x="42" y="11.5">ЗДОРОВ'Я</text>
  </g>
 </g></defs>
 <use href="#cgz" transform="translate(429.4,622)"/>
 <use href="#cgz" transform="translate(1155,715.5)"/>
 <text x="0" y="0" font-size="20.5" fill="#1e9be0" stroke="#1e9be0" stroke-width="0.35" transform="translate(1258.5,722.5) scale(0.95,1)">unicef</text>
 <circle cx="1322.5" cy="715.2" r="9.6" fill="#6bbdec"/>
 <circle cx="1319.5" cy="712" r="2.6" fill="#1a8fe0"/>
 <path d="M1314.5,719 q1,-5 5,-4.5 q4,0.5 3,5 z" fill="#1a8fe0"/>
 <circle cx="1326" cy="714.5" r="2.8" fill="#1a8fe0"/>
 <path d="M1320.5,722 q1,-5.5 5.5,-5 q4.5,0.5 3,5.5 z" fill="#1a8fe0"/>
</svg>
<div class="a" style="left:1133px;top:533px;width:194px;text-align:center;font-size:13.7px;color:#333">ДАНІ СТАНОМ НА</div>
<div class="a" style="left:1133px;top:552.5px;width:194px;text-align:center;font-size:19.2px;color:#2a2a2a;letter-spacing:0.3px">19.10.2020</div>
<div class="a" style="left:1140px;top:594px;font-weight:bold;font-size:12.3px;color:#333">ПРИМІТКА</div>
<div class="a" style="left:1140px;top:611px;font-style:italic;font-size:12.6px;color:#333;line-height:17.6px">Дані з АР Крим та території<br>ОРДЛО відсутні у зв'язку з<br>тимчасовою окупацією</div>

</body></html>
